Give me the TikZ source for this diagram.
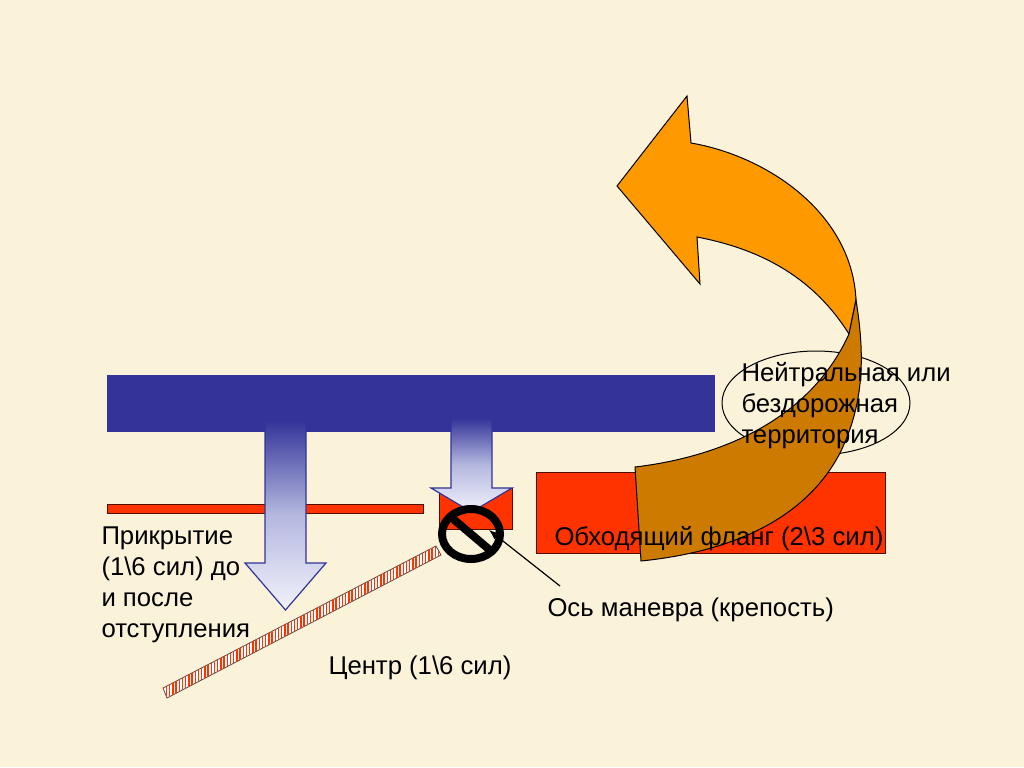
\documentclass[tikz,border=0pt]{standalone}
\usepackage{fontspec}
\setmainfont{Liberation Sans}
\usetikzlibrary{arrows.meta, patterns.meta, shapes.geometric}
\definecolor{cpaper}{HTML}{FBF3D9}
\definecolor{cblue}{HTML}{333399}
\definecolor{cpale}{HTML}{F2F2FB}
\definecolor{cmid}{HTML}{B4B8DF}
\definecolor{cred}{HTML}{FF3300}
\definecolor{corange}{HTML}{FF9900}
\definecolor{cdark}{HTML}{CC7A00}
\tikzset{
  every picture/.style={line width=0.5pt},
  redbar/.style={draw=black!70!cred, fill=cred, line width=0.5pt},
  fallarrow/.style={draw=cblue, line width=0.6pt, top color=cblue, bottom color=cpale, middle color=cmid},
  bend/.style={draw=black, line width=0.5pt, fill=#1},
  label/.style={font=\fontsize{12.85}{15.5}\selectfont, align=left, inner sep=0pt},
}
\begin{document}
\begin{tikzpicture}[x=0.5pt, y=-0.5pt]
  \useasboundingbox (0,0) rectangle (1024,767);
  \fill[cpaper] (0,0) rectangle (1024,767);
  % army and flanks
  \fill[cblue] (107,375) rectangle (715,432);
  \draw[redbar] (107,504) rectangle (423,513);
  \draw[redbar] (439,488) rectangle (512,529);
  \draw[redbar] (536,472) rectangle (885,553);
  \node[ellipse, draw=black, line width=0.5pt, minimum width=94pt, minimum height=52pt, inner sep=0pt] (terrain) at (816,403) {};
  % retreat arrows
  \foreach \x/\t/\n/\h in {285.5/420/563/610, 471.5/418/488/512} {
    \draw[fallarrow] (\x-20.5,\t) -- (\x+20.5,\t) -- (\x+20.5,\n) -- (\x+40.5,\n) -- (\x,\h) -- (\x-40.5,\n) -- (\x-20.5,\n) -- cycle;
  }
  % hatched line
  \draw[black!70, line width=0.4pt, fill=white, postaction={pattern={Lines[angle=90, distance=1.6pt, line width=0.7pt]}, pattern color=cred}]
    (163,688) -- (167,698) -- (441,555) -- (436,546) -- cycle;
  % turning arrow
  \draw[bend=corange] (617,186) -- (687,96) -- (691,143)
    .. controls (767,156) and (852,213) .. (856,300)
    -- (849,334) .. controls (815,280) and (765,250) .. (697,237)
    -- (700,284) -- cycle;
  \draw[bend=cdark] (856,300) .. controls (864,350) and (866,400) .. (840,453)
    .. controls (805,520) and (730,552) .. (641,561)
    -- (635,467) .. controls (720,457) and (810,420) .. (849,334)
    -- cycle;
  % forbidden sign
  \draw[black, line width=4pt] (471,534) ellipse (29 and 25);
  \draw[black, line width=4pt] (452,518) -- (491,551);
  \coordinate (axisend) at (560,586);
  \coordinate (axistip) at (489,530);
  \draw[black, line width=0.6pt, -{Latex[length=5pt,width=4pt]}] (axisend) -- (axistip);
  % texts
  \node[label, anchor=north west] (cover) at (101,526) {Прикрытие\\(1\textbackslash 6 сил) до\\и после\\отступления};
  \node[label, anchor=north west] (neutral) at (741,362) {Нейтральная или\\бездорожная\\территория};
  \node[label, anchor=west] (flank) at (554,539) {Обходящий фланг (2\textbackslash 3 сил)};
  \node[label, anchor=west] (pivot) at (547,610) {Ось маневра (крепость)};
  \node[label, anchor=west] (center) at (328,668) {Центр (1\textbackslash 6 сил)};
\end{tikzpicture}
\end{document}
